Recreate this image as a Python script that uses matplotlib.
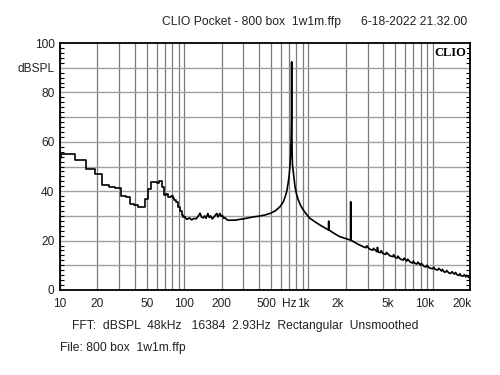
"""CLIO Pocket FFT of the 800 box at 1 W / 1 m, redrawn with matplotlib.

Values were read by eye off the original CLIO screenshot. The low end is kept
as FFT bins (2.93 Hz wide) so it draws as steps; the rest is a plain line.
"""

import matplotlib

matplotlib.use("Agg")
import matplotlib.pyplot as plt
import matplotlib.transforms as mtransforms
import numpy as np

# Low-frequency bins: left edge of each bin (Hz) and its level (dBSPL)
BIN_EDGES = [10.0, 10.25, 13.2, 16.1, 19.0, 21.9, 24.9, 27.8, 30.8, 33.7,
             36.6, 39.6, 42.5, 45.4, 48.3, 51.3, 54.2, 57.1, 60.1, 63.0,
             66.0, 68.9, 71.8, 74.7, 77.7, 80.6, 83.5, 86.5, 89.4, 92.3,
             95.3, 98.2, 101.1]
BIN_DB = [53.6, 54.9, 52.6, 48.9, 46.8, 42.5, 41.8, 41.2, 38.0, 37.6,
          34.9, 34.5, 33.6, 33.8, 37.0, 41.0, 43.8, 43.9, 43.2, 44.0,
          41.6, 38.6, 38.9, 37.8, 38.2, 37.3, 36.6, 35.5, 33.5, 31.8,
          30.3, 29.6, 29.6]

# Mid band, resonance and harmonics (Hz, dBSPL)
FREQ = [101.1, 105, 110, 115, 120, 125, 130, 134, 138, 142, 146, 150, 155,
        159, 163, 168, 174, 178, 183, 187, 191, 194, 198, 203, 208, 213,
        220, 230, 245, 260, 280, 300, 330, 360, 400, 450, 490, 540, 590,
        630, 650, 670, 687, 700, 710, 720, 727, 730, 733, 736, 740, 745,
        758, 780, 805, 830, 870, 910, 970, 1030, 1130, 1240, 1350, 1450,
        1456, 1462, 1600, 1790, 2000, 2185, 2190, 2195, 2450, 2770]
LEVEL = [29.6, 28.6, 29.2, 28.4, 29.0, 28.8, 30.0, 31.1, 29.5, 29.2, 30.0,
         29.0, 31.0, 29.4, 30.0, 28.8, 29.6, 30.3, 31.0, 29.6, 30.4, 31.0,
         29.8, 30.2, 29.0, 29.3, 28.5, 28.2, 28.3, 28.3, 28.6, 28.8, 29.2,
         29.6, 29.9, 30.4, 31.0, 32.0, 33.7, 35.8, 37.8, 40.0, 43.3, 46.5,
         49.9, 55.4, 62.8, 69.6, 92.4, 65.0, 55.0, 50.5, 47.2, 41.8, 38.5,
         36.4, 34.0, 32.4, 30.5, 29.0, 27.6, 26.3, 25.2, 24.3, 27.9, 24.3,
         23.0, 21.6, 20.8, 20.2, 35.7, 20.2, 18.8, 17.5]

# Top octaves, with the small noise spikes (Hz, dBSPL)
HF_FREQ = [2900, 2950, 3100, 3300, 3350, 3550, 3600, 3650, 3800, 3850,
           4000, 4200, 4250, 4540, 4800, 4850, 5000, 5200, 5250, 5500,
           5810, 5900, 6200, 6300, 6600, 6900, 7000, 7200, 7470, 7600,
           8000, 8100, 8500, 8800, 9000, 9300, 9600, 10000, 10200, 10500,
           11000, 11200, 11800, 12000, 12300, 12700, 13000, 13500, 14000, 14300,
           15000, 15300, 15800, 16300, 16600, 17000, 17600, 18000, 18500, 18800,
           19500, 20000]
HF_LEVEL = [17.1, 17.9, 16.6, 16.1, 16.9, 15.5, 17.3, 15.4, 15.1, 15.9,
            14.7, 14.4, 15.2, 13.8, 13.5, 14.3, 13.2, 12.9, 13.7, 12.5,
            12.1, 12.9, 11.7, 12.5, 11.3, 10.9, 11.7, 10.8, 10.5, 11.3,
            10.0, 10.8, 9.6, 9.3, 10.0, 9.1, 8.8, 8.6, 9.3, 8.3,
            8.1, 8.8, 7.7, 8.4, 7.4, 7.2, 7.9, 6.9, 6.7, 7.4,
            6.4, 7.1, 6.1, 5.9, 6.6, 5.7, 5.6, 6.2, 5.3, 6.0,
            5.1, 5.0]

XTICKS = [10, 20, 50, 100, 200, 500, 700, 1000, 2000, 5000, 10000, 20000]
XTICK_LABELS = ["10", "20", "50", "100", "200", "500", "Hz", "1k", "2k",
                "5k", "10k", "20k"]
YTICKS = [0, 20, 40, 60, 80, 90, 100]
YTICK_LABELS = ["0", "20", "40", "60", "80", "dBSPL", "100"]

TITLE = "CLIO Pocket - 800 box  1w1m.ffp"
DATE = "6-18-2022 21.32.00"
FFT_INFO = "FFT:  dBSPL  48kHz   16384  2.93Hz  Rectangular  Unsmoothed"
FILE_INFO = "File: 800 box  1w1m.ffp"

W, H = 500, 375
plt.rcParams["font.family"] = ["Liberation Sans", "DejaVu Sans"]

fig = plt.figure(figsize=(W / 100, H / 100), dpi=100)
ax = fig.add_axes([60 / W, 1 - 290 / H, 410 / W, 247 / H])

# grid: every 1-2-3..9 per decade, every 10 dB
decade_lines = [m * 10**e for e in range(1, 5) for m in range(1, 10)]
decade_lines = [f for f in decade_lines if 10 <= f <= 20000]
for f in decade_lines:
    ax.axvline(f, color="#7a7a7a", lw=0.9, zorder=1)
for db in range(10, 100, 10):
    ax.axhline(db, color="#a0a0a0", lw=1.0, zorder=1)

ax.plot(BIN_EDGES, BIN_DB, drawstyle="steps-post", color="black", lw=1.2,
        zorder=3)
ax.plot(FREQ + HF_FREQ, LEVEL + HF_LEVEL, color="black", lw=1.2, zorder=3)

ax.set_xscale("log")
ax.set_xlim(10, 20000)
ax.set_ylim(0, 100)

ax.xaxis.set_minor_locator(matplotlib.ticker.NullLocator())
ax.set_xticks(XTICKS)
ax.set_xticklabels(XTICK_LABELS)
ax.set_yticks(YTICKS)
ax.set_yticklabels(YTICK_LABELS)
ax.set_yticks(np.arange(0, 101, 2), minor=True)
ax.tick_params(axis="x", length=0, pad=6, labelsize=8.6, labelcolor="#222")
ax.tick_params(axis="y", which="major", length=0, pad=4, labelsize=8.6,
               labelcolor="#222")
ax.tick_params(axis="y", which="minor", direction="in", length=3,
               width=0.8, left=True, right=True)

# CLIO nudges the upper x labels a little to the left
for lab, f in zip(ax.get_xticklabels(), XTICKS):
    if f in (500, 1000) or f >= 2000:
        shift = -3.5 / 72 if f < 2000 else -5.5 / 72
        lab.set_transform(lab.get_transform() +
                          mtransforms.ScaledTranslation(shift, 0,
                                                        fig.dpi_scale_trans))

for s in ax.spines.values():
    s.set_linewidth(1.3)
    s.set_color("black")

ax.text(0.992, 0.985, "CLIO", transform=ax.transAxes, ha="right", va="top",
        family="Liberation Serif", fontweight="bold", fontsize=9,
        zorder=5, bbox=dict(facecolor="white", edgecolor="none", pad=0.5))

fig.text(162 / W, 1 - 22 / H, TITLE, ha="left", va="center", fontsize=8.7,
         color="#222")
fig.text(361 / W, 1 - 22 / H, DATE, ha="left", va="center", fontsize=8.7,
         color="#222")
fig.text(72 / W, 1 - 326 / H, FFT_INFO, ha="left", va="center",
         fontsize=8.7, color="#222")
fig.text(60 / W, 1 - 348 / H, FILE_INFO, ha="left", va="center",
         fontsize=8.7, color="#222")

fig.savefig("out.png", dpi=100, facecolor="white")
